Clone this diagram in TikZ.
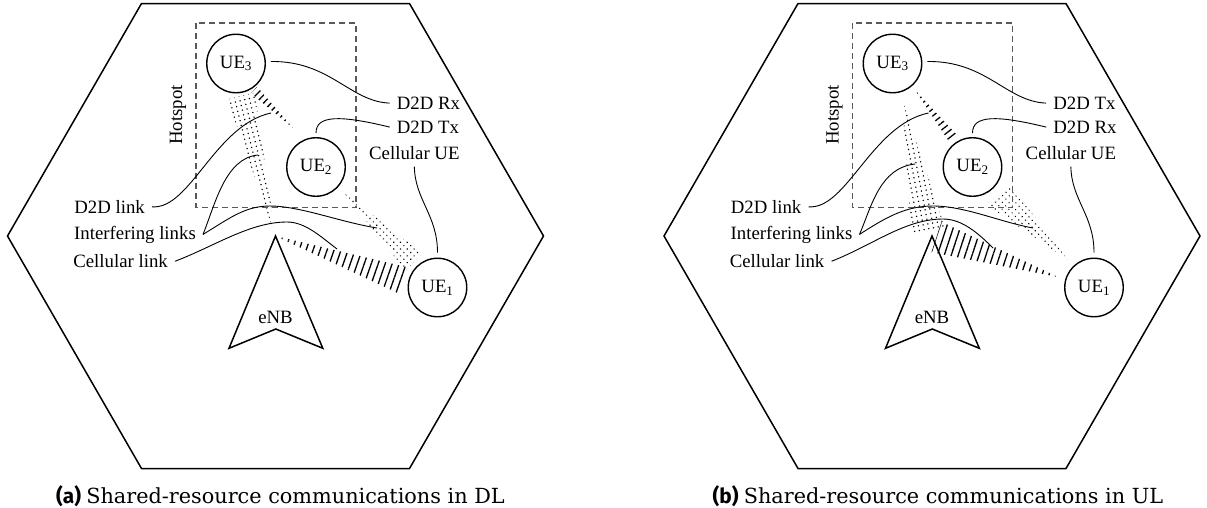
\documentclass[tikz,border=0pt]{standalone}
\usepackage{fontspec}
\setmainfont{Liberation Serif}
\newfontfamily\capserif{DejaVu Serif}
\newfontfamily\capsans{Fira Sans}
\usetikzlibrary{calc,patterns.meta}

\tikzset{
  txt/.style={inner sep=1pt,font=\fontsize{18.8}{22}\selectfont},
  lbl/.style={inner xsep=7pt,inner ysep=1pt,font=\fontsize{18.8}{22}\selectfont},
  ue/.style={circle,draw,line width=1.4pt,minimum size=58.5pt,inner sep=0pt,
    font=\fontsize{18.8}{22}\selectfont},
  cellline/.style={line width=1.5pt,line join=miter},
  spot/.style={draw=black!65,line width=1.1pt,dash pattern=on 6pt off 4pt},
  leader/.style={line width=0.9pt},
  caption/.style={anchor=base west,inner sep=0pt,font=\fontsize{20.8}{24}\selectfont}
}

% tapered band: #1 pattern, #2 narrow end, #3 wide end, #4 half width at wide end
\newcommand\wedgefill[4]{%
  \fill[pattern={#1}] (#2) -- ($(#3)!#4!90:(#2)$) -- ($(#3)!#4!-90:(#2)$) -- cycle;}

% parts shared by both cells: #1 prefix, #2/#3 roles of UE3/UE2, #4 tag, #5 direction
\newcommand\cellpanel[5]{%
  \draw[cellline] (7.5,236) -- (141.5,3.5) -- (409.5,3.5) -- (543.5,236)
    -- (409.5,468.5) -- (141.5,468.5) -- cycle;
  \draw[spot] (196,23) rectangle (356,207.5);
  \node[txt,rotate=90] (#1-hot) at (178,115) {Hotspot};
  \coordinate (#1-bs) at (275.5,236);
  \draw[cellline] (#1-bs) -- (229,348.3) -- (275.8,329) -- (322.8,348.3) -- cycle;
  \node[txt,anchor=base] (#1-enb) at (275.5,323.3) {eNB};
  \node[ue] (#1-UE3) at (236,63.5) {UE\textsubscript{3}};
  \node[ue] (#1-UE2) at (316,167) {UE\textsubscript{2}};
  \node[ue] (#1-UE1) at (437.5,287.5) {UE\textsubscript{1}};
  \node[lbl,anchor=base west] (#1-rtop) at (389.7,109.3) {#2};
  \node[lbl,anchor=base west] (#1-rmid) at (389.7,133.3) {#3};
  \node[lbl,anchor=base west] (#1-cue) at (362,159.3) {Cellular UE};
  \node[lbl,anchor=base east] (#1-dl) at (152,213.3) {D2D link};
  \node[lbl,anchor=base east] (#1-il) at (203,239) {Interfering links};
  \node[lbl,anchor=base east] (#1-cl) at (175,267.7) {Cellular link};
  \draw[leader] ($(#1-UE3.east)+(5,-2)$) .. controls (330,60.7) and (350,101.7) .. (#1-rtop.west);
  \draw[leader] ($(#1-UE2.north)+(0,-4)$) .. controls (316,115) and (340,115) .. (#1-rmid.west);
  \draw[leader] ($(#1-cue.south)+(0,6)$) .. controls (415,200) and (437.5,215) .. ($(#1-UE1.north)+(0,-5)$);
  \node[caption] (#1-cap) at (56,503) {{\capsans\bfseries #4}\ {\capserif Shared-resource communications in #5}};
}

\begin{document}
\begin{tikzpicture}[x=1pt,y=-1pt]
\useasboundingbox (0,0) rectangle (1207,507);

% ---------- downlink ----------
\begin{scope}
  \coordinate (a-c1) at (405,281);
  \coordinate (a-d1) at (293,128);
  \coordinate (a-d2) at (254,90);
  \coordinate (a-i1) at (241,96);
  \coordinate (a-i2) at (343,192);
  \coordinate (a-i3) at (414,262);
  \wedgefill{Lines[angle=70.8,distance=6.6pt,line width=1.3pt]}{275.5,236}{a-c1}{14pt}
  \wedgefill{Lines[angle=45.7,distance=5.5pt,line width=1.3pt]}{a-d1}{a-d2}{4.5pt}
  \wedgefill{Dots[radius=0.8pt,distance=4.8pt,angle=14]}{275.5,236}{a-i1}{14pt}
  \wedgefill{Dots[radius=0.8pt,distance=4.8pt,angle=45]}{a-i2}{a-i3}{12pt}
  \cellpanel{a}{D2D Rx}{D2D Tx}{(a)}{DL}
  \coordinate (a-e1) at (271,113);
  \coordinate (a-e2) at (258,155);
  \coordinate (a-e3) at (377,228);
  \coordinate (a-e4) at (337,249);
  \draw[leader] (a-dl.east) .. controls (190,210) and (215,125) .. (a-e1);
  \draw[leader] (a-il.east) .. controls (215,205) and (225,158) .. (a-e2);
  \draw[leader] (a-il.east) .. controls (230,218) and (245,206) .. (270,206)
    .. controls (300,206) and (340,222) .. (a-e3);
  \draw[leader] (a-cl.east) .. controls (215,246) and (250,222) .. (287,222)
    .. controls (305,222) and (320,236) .. (a-e4);
\end{scope}

% ---------- uplink ----------
\begin{scope}[xshift=656.5pt]
  \coordinate (b-c1) at (401.5,277);
  \coordinate (b-c2) at (280,237);
  \coordinate (b-d1) at (258.5,90);
  \coordinate (b-d2) at (295.5,137);
  \coordinate (b-i1) at (245.5,98);
  \coordinate (b-i2) at (271.5,230);
  \coordinate (b-i3) at (411.5,260);
  \coordinate (b-i4) at (343.5,196);
  \wedgefill{Lines[angle=71.8,distance=6.6pt,line width=1.3pt]}{b-c1}{b-c2}{16pt}
  \wedgefill{Lines[angle=38.2,distance=5.5pt,line width=1.3pt]}{b-d1}{b-d2}{5pt}
  \wedgefill{Dots[radius=0.8pt,distance=4.8pt,angle=11]}{b-i1}{b-i2}{17pt}
  \wedgefill{Dots[radius=0.8pt,distance=4.8pt,angle=43]}{b-i3}{b-i4}{15pt}
  \cellpanel{b}{D2D Tx}{D2D Rx}{(b)}{UL}
  \coordinate (b-e1) at (272,113);
  \coordinate (b-e2) at (258.5,164);
  \coordinate (b-e3) at (376.5,228);
  \coordinate (b-e4) at (336.5,248);
  \draw[leader] (b-dl.east) .. controls (190,210) and (215,125) .. (b-e1);
  \draw[leader] (b-il.east) .. controls (215.5,205) and (223.5,168) .. (b-e2);
  \draw[leader] (b-il.east) .. controls (228.5,218) and (248.5,206) .. (276.5,206)
    .. controls (308.5,206) and (343.5,222) .. (b-e3);
  \draw[leader] (b-cl.east) .. controls (216.5,245) and (248.5,219) .. (286.5,219)
    .. controls (305.5,219) and (321.5,233) .. (b-e4);
\end{scope}
\end{tikzpicture}
\end{document}
